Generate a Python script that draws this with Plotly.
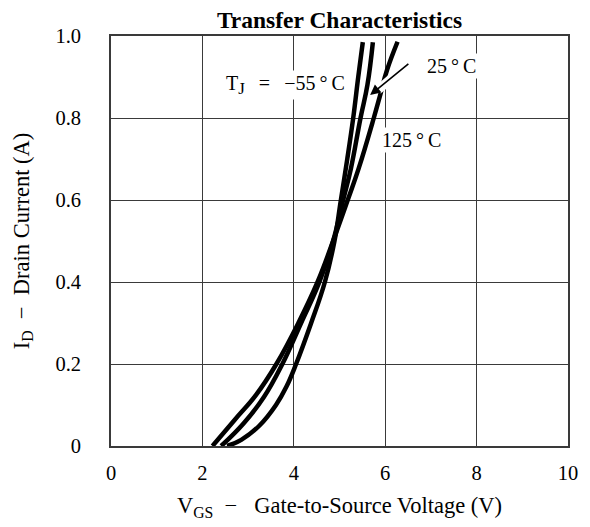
import plotly.graph_objects as go

# Transfer characteristics: V_GS (V) vs I_D (A) for each junction temperature
vgs_m55 = [2.54, 2.85, 3.25, 3.61, 3.84, 4.05, 4.38, 4.68, 4.89, 5.03, 5.17, 5.30, 5.41, 5.51]
id_m55 = [0.0, 0.015, 0.05, 0.10, 0.145, 0.20, 0.30, 0.40, 0.50, 0.60, 0.70, 0.80, 0.90, 0.985]

vgs_25 = [2.41, 2.90, 3.35, 3.75, 4.16, 4.56, 4.86, 5.08, 5.25, 5.46, 5.61, 5.73]
id_25 = [0.0, 0.055, 0.12, 0.20, 0.30, 0.40, 0.50, 0.60, 0.677, 0.80, 0.88, 0.985]

vgs_125 = [2.22, 2.70, 3.17, 3.62, 4.10, 4.52, 4.86, 5.18, 5.42, 5.75, 5.89, 6.04, 6.27]
id_125 = [0.0, 0.063, 0.124, 0.20, 0.30, 0.40, 0.50, 0.60, 0.677, 0.80, 0.856, 0.917, 0.986]

x_ticks = [0, 2, 4, 6, 8, 10]
x_labels = ["0", "2", "4", "6", "8", "10"]
y_ticks = [0, 0.2, 0.4, 0.6, 0.8, 1.0]
y_labels = ["0", "0.2", "0.4", "0.6", "0.8", "1.0"]

FONT = "Liberation Serif"
GRID = "#3a3a3a"

fig = go.Figure()
for xs, ys, name in [(vgs_125, id_125, "125°C"), (vgs_25, id_25, "25°C"), (vgs_m55, id_m55, "−55°C")]:
    fig.add_trace(go.Scatter(x=xs, y=ys, mode="lines", name=name,
                             line=dict(color="black", width=4.5, shape="spline", smoothing=1.2),
                             showlegend=False, hoverinfo="skip"))

# white halo under the arrow (cuts the 125°C curve like the original)
fig.add_shape(type="line", x0=6.5, y0=0.932, x1=5.84, y1=0.868, xref="x", yref="y",
              line=dict(color="white", width=9), layer="above")

fig.add_annotation(x=5.17, y=0.88, xref="x", yref="y",
                   text="T<sub><span style='font-size:17px'>J</span></sub>\u2002\u2009=\u2002\u2009−55\u2009°\u2009C",
                   showarrow=False, xanchor="right", bgcolor="white", borderpad=1,
                   font=dict(family=FONT, size=20, color="black"))
fig.add_annotation(x=7.45, y=0.927, xref="x", yref="y", text="25\u2009°\u2009C",
                   showarrow=False, bgcolor="white", borderpad=1,
                   font=dict(family=FONT, size=20, color="black"))
fig.add_annotation(x=6.57, y=0.746, xref="x", yref="y", text="125\u2009°\u2009C",
                   showarrow=False, bgcolor="white", borderpad=1,
                   font=dict(family=FONT, size=20, color="black"))
fig.add_annotation(x=5.67, y=0.856, ax=6.54, ay=0.935, xref="x", yref="y", axref="x", ayref="y",
                   text="", showarrow=True, arrowhead=2, arrowsize=1.3, arrowwidth=1.6, arrowcolor="black")

# page body has an 8px margin: shift the figure so the plot box lands where the original's does
fig.update_layout(
    width=582, height=519,
    margin=dict(l=101, r=21, t=28, b=81),
    paper_bgcolor="white", plot_bgcolor="white",
    font=dict(family=FONT, size=20, color="black"),
    title=dict(text="<b>Transfer Characteristics</b>", x=0.5, xref="paper", xanchor="center",
               y=0.977, yref="container", yanchor="middle",
               font=dict(family=FONT, size=23.5, color="black")),
)
fig.update_xaxes(range=[0, 10], tickvals=x_ticks, ticktext=x_labels,
                 showgrid=True, gridcolor=GRID, gridwidth=1.3,
                 showline=True, linecolor=GRID, linewidth=1.6, mirror=True,
                 zeroline=False, ticks="", ticklabelstandoff=8,
                 tickfont=dict(family=FONT, size=20.5),
                 title=dict(text="V<sub>GS</sub>  −   Gate-to-Source Voltage (V)", standoff=14,
                            font=dict(family=FONT, size=22.5)))
fig.update_yaxes(range=[0, 1.0], tickvals=y_ticks, ticktext=y_labels,
                 showgrid=True, gridcolor=GRID, gridwidth=1.3,
                 showline=True, linecolor=GRID, linewidth=1.6, mirror=True,
                 zeroline=False, ticks="", ticklabelstandoff=24,
                 tickfont=dict(family=FONT, size=20.5),
                 title=dict(text="I<sub>D</sub>  −  Drain Current (A)", standoff=20,
                            font=dict(family=FONT, size=22.5)))

fig.write_html("out.html")
